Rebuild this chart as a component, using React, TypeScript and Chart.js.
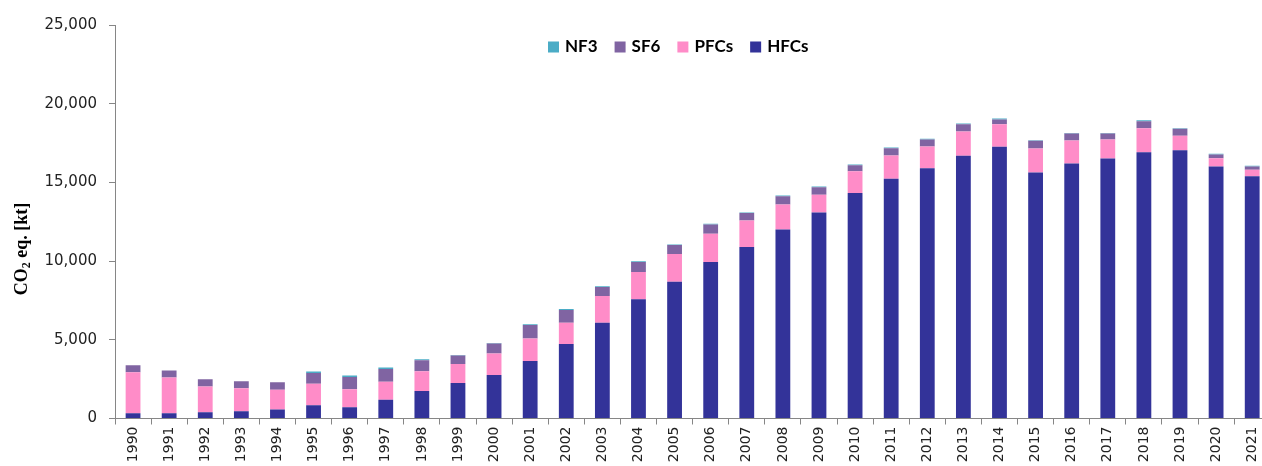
import React, { useEffect, useRef } from "react";
import { Chart, registerables } from "chart.js";

Chart.register(...registerables);

const years = [
  "1990","1991","1992","1993","1994","1995","1996","1997","1998","1999",
  "2000","2001","2002","2003","2004","2005","2006","2007","2008","2009",
  "2010","2011","2012","2013","2014","2015","2016","2017","2018","2019",
  "2020","2021",
];

const hfcs = [
  338, 338, 400, 465, 571, 846, 719, 1184, 1755, 2263,
  2771, 3659, 4738, 6091, 7572, 8693, 9940, 10892, 12013, 13092,
  14319, 15228, 15905, 16687, 17258, 15630, 16201, 16518, 16920, 17047,
  16011, 15397,
];

const pfcs = [
  2602, 2263, 1630, 1460, 1248, 1354, 1142, 1143, 1248, 1206,
  1353, 1417, 1353, 1692, 1734, 1755, 1798, 1692, 1586, 1121,
  1395, 1481, 1375, 1544, 1439, 1523, 1459, 1206, 1523, 909,
  528, 402,
];

const sf6 = [
  444, 445, 466, 444, 486, 698, 783, 824, 697, 528,
  635, 867, 804, 571, 634, 571, 592, 466, 529, 486,
  381, 465, 444, 466, 296, 486, 444, 380, 444, 445,
  233, 212,
];

const nf3 = [
  0, 0, 0, 0, 0, 85, 85, 85, 60, 45,
  42, 42, 60, 45, 45, 42, 42, 42, 42, 42,
  42, 42, 42, 42, 60, 42, 42, 42, 60, 42,
  42, 42,
];

const yTicks = [0, 5000, 10000, 15000, 20000, 25000];

const COLORS = {
  HFCs: "#333399",
  PFCs: "#FF8CC8",
  SF6: "#8064A2",
  NF3: "#4BACC6",
};

const legendPlugin = {
  id: "customLegend",
  afterDraw(chart: any) {
    const ctx = chart.ctx;
    const ds = chart.data.datasets.slice().reverse();
    ctx.save();
    ctx.font = "bold 17px Lato, 'Liberation Sans', sans-serif";
    ctx.textBaseline = "middle";
    ctx.textAlign = "left";
    let x = 548;
    const y = 47;
    ds.forEach((d: any) => {
      ctx.fillStyle = d.backgroundColor;
      ctx.fillRect(x, y - 5.5, 11, 11);
      x += 17;
      ctx.fillStyle = "#000";
      ctx.fillText(d.label, x, y);
      x += ctx.measureText(d.label).width + 17;
    });
    ctx.restore();
  },
};

const yTitlePlugin = {
  id: "yTitle",
  afterDraw(chart: any) {
    const ctx = chart.ctx;
    ctx.save();
    ctx.translate(22, 249);
    ctx.rotate(-Math.PI / 2);
    ctx.fillStyle = "#000";
    ctx.textBaseline = "middle";
    const big = "bold 18px 'Liberation Serif', 'Times New Roman', serif";
    const small = "bold 12px 'Liberation Serif', 'Times New Roman', serif";
    const p1 = "CO";
    const p2 = "2";
    const p3 = " eq. [kt]";
    ctx.font = big;
    const w1 = ctx.measureText(p1).width;
    const w3 = ctx.measureText(p3).width;
    ctx.font = small;
    const w2 = ctx.measureText(p2).width;
    const total = w1 + w2 + w3;
    let x = -total / 2;
    ctx.textAlign = "left";
    ctx.font = big;
    ctx.fillText(p1, x, 0);
    x += w1;
    ctx.font = small;
    ctx.fillText(p2, x, 5);
    x += w2;
    ctx.font = big;
    ctx.fillText(p3, x, 0);
    ctx.restore();
  },
};

export default function App() {
  const ref = useRef<HTMLCanvasElement | null>(null);

  useEffect(() => {
    if (!ref.current) return;
    const mk = (label: string, data: number[]) => ({
      label,
      data,
      backgroundColor: (COLORS as any)[label],
      borderWidth: 0,
      barPercentage: 0.41,
      categoryPercentage: 1.0,
    });
    const chart = new Chart(ref.current, {
      type: "bar",
      data: {
        labels: years,
        datasets: [
          mk("HFCs", hfcs),
          mk("PFCs", pfcs),
          mk("SF6", sf6),
          mk("NF3", nf3),
        ],
      },
      options: {
        responsive: false,
        animation: false,
        layout: { padding: { top: 25, right: 0, left: 0, bottom: 0 } },
        plugins: {
          legend: { display: false },
          tooltip: { enabled: false },
        },
        scales: {
          x: {
            stacked: true,
            afterFit: (s: any) => {
              s.height = 47.5;
            },
            border: { display: true, color: "#868686", width: 1 },
            grid: {
              display: true,
              drawOnChartArea: false,
              drawTicks: true,
              tickLength: 6,
              color: "#868686",
              offset: true,
            },
            ticks: {
              minRotation: 90,
              maxRotation: 90,
              autoSkip: false,
              padding: 2,
              color: "#222",
              font: { family: "'DejaVu Sans', sans-serif", size: 14 },
            },
          },
          y: {
            stacked: true,
            min: 0,
            max: 25000,
            afterFit: (s: any) => {
              s.width = 115;
            },
            afterBuildTicks: (s: any) => {
              s.ticks = yTicks.map((v) => ({ value: v }));
            },
            border: { display: true, color: "#868686", width: 1 },
            grid: {
              display: true,
              drawOnChartArea: false,
              drawTicks: true,
              tickLength: 6,
              color: "#868686",
            },
            ticks: {
              padding: 12,
              color: "#222",
              font: { family: "'DejaVu Sans', sans-serif", size: 15 },
              callback: (v: any) => Number(v).toLocaleString("en-US"),
            },
          },
        },
      },
      plugins: [legendPlugin, yTitlePlugin],
    });
    return () => chart.destroy();
  }, []);

  return (
    <div
      style={{
        position: "fixed",
        left: 0,
        top: 0,
        width: 1262,
        height: 466,
        overflow: "hidden",
        background: "#fff",
      }}
    >
      <canvas ref={ref} width={1271} height={466} style={{ display: "block" }} />
    </div>
  );
}
